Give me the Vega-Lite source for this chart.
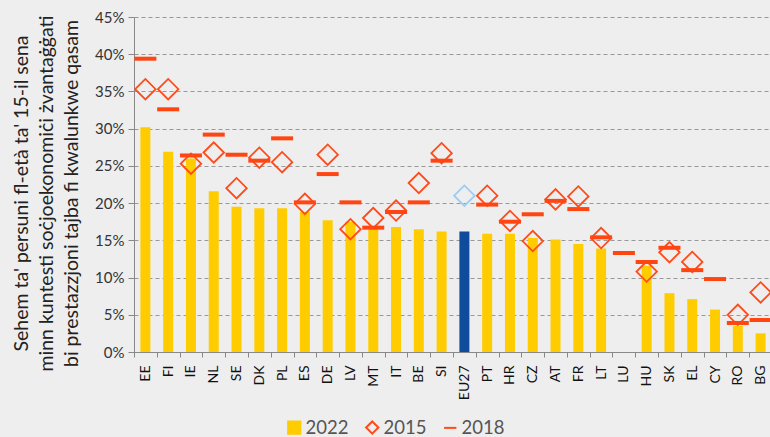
{
  "$schema": "https://vega.github.io/schema/vega-lite/v6.json",
  "width": 638,
  "height": 335,
  "autosize": {"type": "none"},
  "padding": {"left": 134, "top": 17, "right": 0, "bottom": 85},
  "background": "#eeeeee",
  "data": {
    "values": [
      {"c": "EE", "s": "2022", "v": 30.2}, {"c": "FI", "s": "2022", "v": 26.9}, {"c": "IE", "s": "2022", "v": 26.0},
      {"c": "NL", "s": "2022", "v": 21.6}, {"c": "SE", "s": "2022", "v": 19.5}, {"c": "DK", "s": "2022", "v": 19.3},
      {"c": "PL", "s": "2022", "v": 19.3}, {"c": "ES", "s": "2022", "v": 18.8}, {"c": "DE", "s": "2022", "v": 17.7},
      {"c": "LV", "s": "2022", "v": 17.5}, {"c": "MT", "s": "2022", "v": 16.8}, {"c": "IT", "s": "2022", "v": 16.8},
      {"c": "BE", "s": "2022", "v": 16.5}, {"c": "SI", "s": "2022", "v": 16.2}, {"c": "EU27", "s": "2022", "v": 16.2},
      {"c": "PT", "s": "2022", "v": 15.9}, {"c": "HR", "s": "2022", "v": 15.9}, {"c": "CZ", "s": "2022", "v": 15.3},
      {"c": "AT", "s": "2022", "v": 15.1}, {"c": "FR", "s": "2022", "v": 14.5}, {"c": "LT", "s": "2022", "v": 13.9},
      {"c": "HU", "s": "2022", "v": 11.6}, {"c": "SK", "s": "2022", "v": 7.9}, {"c": "EL", "s": "2022", "v": 7.1},
      {"c": "CY", "s": "2022", "v": 5.7}, {"c": "RO", "s": "2022", "v": 3.5}, {"c": "BG", "s": "2022", "v": 2.5},

      {"c": "EE", "s": "2015", "v": 35.3}, {"c": "FI", "s": "2015", "v": 35.3}, {"c": "IE", "s": "2015", "v": 25.3},
      {"c": "NL", "s": "2015", "v": 26.8}, {"c": "SE", "s": "2015", "v": 22.0}, {"c": "DK", "s": "2015", "v": 26.1},
      {"c": "PL", "s": "2015", "v": 25.5}, {"c": "ES", "s": "2015", "v": 19.9}, {"c": "DE", "s": "2015", "v": 26.5},
      {"c": "LV", "s": "2015", "v": 16.5}, {"c": "MT", "s": "2015", "v": 18.0}, {"c": "IT", "s": "2015", "v": 19.0},
      {"c": "BE", "s": "2015", "v": 22.7}, {"c": "SI", "s": "2015", "v": 26.7}, {"c": "EU27", "s": "2015", "v": 21.0},
      {"c": "PT", "s": "2015", "v": 21.0}, {"c": "HR", "s": "2015", "v": 17.6}, {"c": "CZ", "s": "2015", "v": 14.9},
      {"c": "AT", "s": "2015", "v": 20.5}, {"c": "FR", "s": "2015", "v": 20.9}, {"c": "LT", "s": "2015", "v": 15.3},
      {"c": "HU", "s": "2015", "v": 10.8}, {"c": "SK", "s": "2015", "v": 13.4}, {"c": "EL", "s": "2015", "v": 12.1},
      {"c": "RO", "s": "2015", "v": 5.0}, {"c": "BG", "s": "2015", "v": 8.0},

      {"c": "EE", "s": "2018", "v": 39.4}, {"c": "FI", "s": "2018", "v": 32.6}, {"c": "IE", "s": "2018", "v": 26.4},
      {"c": "NL", "s": "2018", "v": 29.2}, {"c": "SE", "s": "2018", "v": 26.5}, {"c": "DK", "s": "2018", "v": 25.7},
      {"c": "PL", "s": "2018", "v": 28.7}, {"c": "ES", "s": "2018", "v": 20.1}, {"c": "DE", "s": "2018", "v": 23.9},
      {"c": "LV", "s": "2018", "v": 20.1}, {"c": "MT", "s": "2018", "v": 16.7}, {"c": "IT", "s": "2018", "v": 18.8},
      {"c": "BE", "s": "2018", "v": 20.1}, {"c": "SI", "s": "2018", "v": 25.7}, {"c": "PT", "s": "2018", "v": 19.8},
      {"c": "HR", "s": "2018", "v": 17.5}, {"c": "CZ", "s": "2018", "v": 18.5}, {"c": "AT", "s": "2018", "v": 20.3},
      {"c": "FR", "s": "2018", "v": 19.2}, {"c": "LT", "s": "2018", "v": 15.4}, {"c": "LU", "s": "2018", "v": 13.3},
      {"c": "HU", "s": "2018", "v": 12.1}, {"c": "SK", "s": "2018", "v": 14.0}, {"c": "EL", "s": "2018", "v": 11.0},
      {"c": "CY", "s": "2018", "v": 9.8}, {"c": "RO", "s": "2018", "v": 3.9}, {"c": "BG", "s": "2018", "v": 4.3}
    ]
  },
  "encoding": {
    "x": {
      "field": "c", "type": "nominal",
      "scale": {"domain": ["EE","FI","IE","NL","SE","DK","PL","ES","DE","LV","MT","IT","BE","SI","EU27","PT","HR","CZ","AT","FR","LT","LU","HU","SK","EL","CY","RO","BG"], "paddingInner": 0, "paddingOuter": 0},
      "axis": {
        "title": null, "labelAngle": -90, "labelFontSize": 14, "labelColor": "#111",
        "labelPadding": 8, "tickBand": "extent", "tickSize": 5, "tickColor": "#888",
        "domainColor": "#888", "grid": false
      }
    },
    "y": {
      "field": "v", "type": "quantitative",
      "scale": {"domain": [0, 45], "nice": false},
      "axis": {
        "values": [0,5,10,15,20,25,30,35,40,45],
        "labelExpr": "datum.value + '%'",
        "labelFontSize": 15, "labelColor": "#333", "labelPadding": 4,
        "tickSize": 6, "tickColor": "#888", "domainColor": "#888",
        "grid": true, "gridColor": "#999", "gridDash": [4, 3], "gridWidth": 1,
        "title": ["Sehem ta' persuni fl-età ta' 15-il sena", "minn kuntesti soċjoekonomiċi żvantaġġati", "bi prestazzjoni tajba fi kwalunkwe qasam"],
        "titleFontSize": 19.5, "titleFontWeight": "normal", "titleColor": "#222",
        "titleLineHeight": 25, "titleAngle": -90, "titleBaseline": "middle", "titleAlign": "center",
        "titleX": -113, "titleY": 176
      }
    }
  },
  "layer": [
    {
      "transform": [{"filter": "datum.s === '2022'"}],
      "mark": {"type": "bar", "size": 10},
      "encoding": {
        "color": {"condition": {"test": "datum.c === 'EU27'", "value": "#0f4c9c"}, "value": "#ffcc00"}
      }
    },
    {
      "transform": [{"filter": "datum.s === '2015' && datum.c !== 'EU27'"}],
      "mark": {"type": "point", "size": 420, "strokeWidth": 1.8, "opacity": 1},
      "encoding": {
        "stroke": {"field": "s", "type": "nominal", "scale": {"domain": ["2022","2015","2018"], "range": ["#ffcc00","#ff4a1a","#ff4a1a"]}, "title": null},
        "fill": {"field": "s", "type": "nominal", "scale": {"domain": ["2022","2015","2018"], "range": ["#ffcc00","transparent","transparent"]}, "title": null},
        "shape": {"field": "s", "type": "nominal", "scale": {"domain": ["2022","2015","2018"], "range": ["square","diamond","stroke"]}, "title": null}
      }
    },
    {
      "transform": [{"filter": "datum.s === '2015' && datum.c === 'EU27'"}],
      "mark": {"type": "point", "shape": "diamond", "size": 420, "strokeWidth": 1.8, "color": "#9ecbf2", "filled": false, "opacity": 1}
    },
    {
      "transform": [{"filter": "datum.s === '2018'"}],
      "mark": {"type": "tick", "size": 22, "thickness": 4, "color": "#ff4512", "orient": "horizontal", "opacity": 1}
    }
  ],
  "config": {
    "view": {"stroke": null},
    "font": "Lato",
    "axis": {"labelFont": "Lato", "titleFont": "Lato"},
    "legend": {
      "orient": "none", "legendX": 151, "legendY": 401, "direction": "horizontal",
      "padding": 0, "labelFontSize": 18.5, "labelColor": "#555", "labelFont": "Lato",
      "symbolSize": 150, "symbolStrokeWidth": 2, "symbolOpacity": 1, "labelOffset": 2, "columnPadding": 13
    }
  }
}
